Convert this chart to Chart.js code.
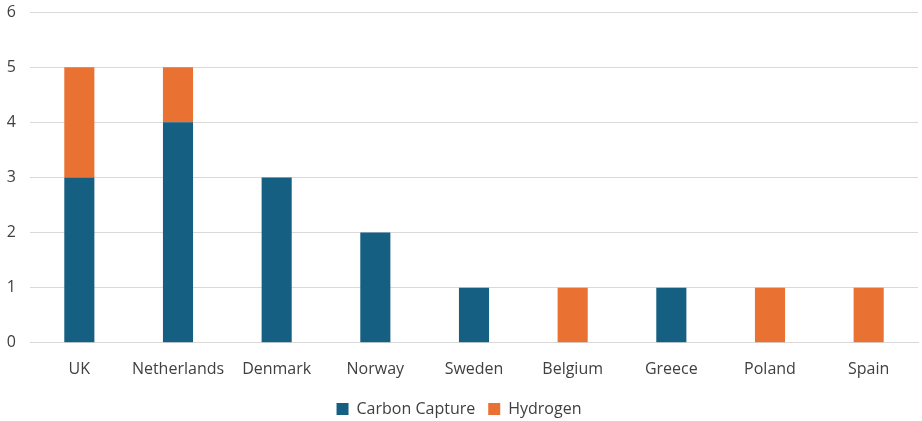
<!DOCTYPE html>
<html>
<head>
<meta charset="utf-8">
<script src="https://cdn.jsdelivr.net/npm/chart.js@4"></script>
<style>
    html, body { margin: 0; padding: 0; background: #ffffff; }
    #wrap { width: 922px; height: 421px; }
</style>
</head>
<body>
<div id="wrap"><canvas id="projectChart"></canvas></div>
<script>

// ================= DATA =================

const countries = ["UK", "Netherlands", "Denmark", "Norway", "Sweden", "Belgium", "Greece", "Poland", "Spain"];

const carbonCapture = [3, 4, 3, 2, 1, 0, 1, 0, 0];

const hydrogen = [2, 1, 0, 0, 0, 1, 0, 1, 1];

const yTicks = [0, 1, 2, 3, 4, 5, 6];

// ================= CHART =================

Chart.defaults.font.family = "'Open Sans', 'Noto Sans', sans-serif";
Chart.defaults.font.size = 16;
Chart.defaults.color = "#404040";

new Chart(document.getElementById("projectChart"), {

    type: "bar",

    data: {

        labels: countries,

        datasets: [
            {
                label: "Carbon Capture",
                data: carbonCapture,
                backgroundColor: "#156082",
                barPercentage: 0.305,
                categoryPercentage: 1
            },
            {
                label: "Hydrogen",
                data: hydrogen,
                backgroundColor: "#e97132",
                barPercentage: 0.305,
                categoryPercentage: 1
            }
        ]

    },

    options: {

        responsive: true,
        maintainAspectRatio: false,
        animation: false,

        layout: {
            padding: { top: 12, right: 4, bottom: -6, left: 0 }
        },

        plugins: {
            legend: {
                position: "bottom",
                labels: {
                    boxWidth: 12,
                    boxHeight: 12,
                    padding: 13,
                    font: { size: 16 }
                }
            },
            tooltip: { enabled: false }
        },

        scales: {

            x: {
                stacked: true,
                grid: { display: false },
                border: { color: "#d9d9d9" },
                ticks: { padding: 9 }
            },

            y: {
                stacked: true,
                min: yTicks[0],
                max: yTicks[yTicks.length - 1],
                afterBuildTicks: axis => {
                    axis.ticks = yTicks.map(v => ({ value: v }));
                },
                afterFit: axis => {
                    axis.width = 30;
                    axis.paddingTop = 0;
                    axis.paddingBottom = 0;
                },
                grid: {
                    color: "#d9d9d9",
                    drawTicks: false
                },
                border: { display: false },
                ticks: {
                    padding: 14
                }
            }

        }

    }

});

</script>
</body>
</html>
